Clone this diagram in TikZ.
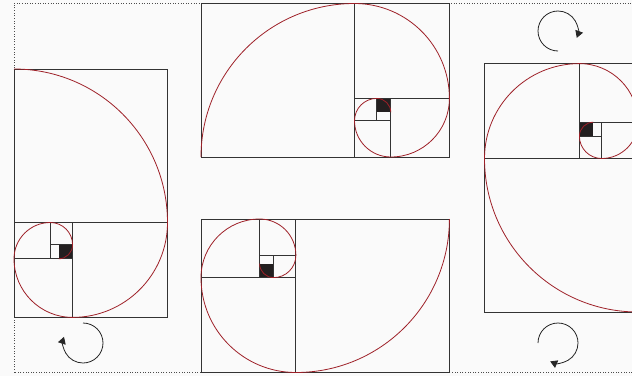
\documentclass[tikz,border=0pt]{standalone}
\usetikzlibrary{arrows.meta}
\definecolor{spiralred}{RGB}{158,32,40}
\definecolor{sqblack}{RGB}{35,31,32}
\begin{document}
\begin{tikzpicture}[x=1pt,y=1pt,
  sqline/.style={draw=black!80,line width=0.9pt},
  spiralline/.style={draw=spiralred,line width=0.8pt},
  turnarrow/.style={draw=black!85,line width=0.8pt,-{Triangle[length=7pt,width=8pt]}}]
\clip (0,0) rectangle (632,376);
\fill[black!2] (0,0) rectangle (632,376);
\draw[black!70,line width=0.8pt,dash pattern=on 1pt off 1.6pt] (14,3.5) rectangle (638,372.5);
\foreach \px/\py/\rot in {14/307/-90, 201/219/0, 449.4/157/180, 638/64/90}{
  \begin{scope}[shift={(\px,\py)},rotate=\rot]
  \fill[sqblack] (175.8,44.6) rectangle (189.8,58.6);
  \draw[sqline] (0,0) rectangle (248.4,153.5);
  \draw[sqline] (153.5,0) -- (153.5,153.5);
  \draw[sqline] (153.5,58.6) -- (248.4,58.6);
  \draw[sqline] (189.8,0) -- (189.8,58.6);
  \draw[sqline] (153.5,36.3) -- (189.8,36.3);
  \draw[sqline] (175.8,36.3) -- (175.8,58.6);
  \draw[spiralline] (0,0) arc[start angle=180,end angle=90,radius=153.5]
    arc[start angle=90,end angle=0,radius=94.9]
    arc[start angle=0,end angle=-90,radius=58.6]
    arc[start angle=-90,end angle=-180,radius=36.3]
    arc[start angle=180,end angle=90,radius=22.3]
    arc[start angle=90,end angle=0,radius=14];
  \end{scope}
}
\draw[turnarrow] (83,53) arc[start angle=90,end angle=-198,radius=20];
\draw[turnarrow] (558,325) arc[start angle=-90,end angle=-380,radius=20];
\draw[turnarrow] (538,33) arc[start angle=180,end angle=-113,radius=20];
\end{tikzpicture}
\end{document}
